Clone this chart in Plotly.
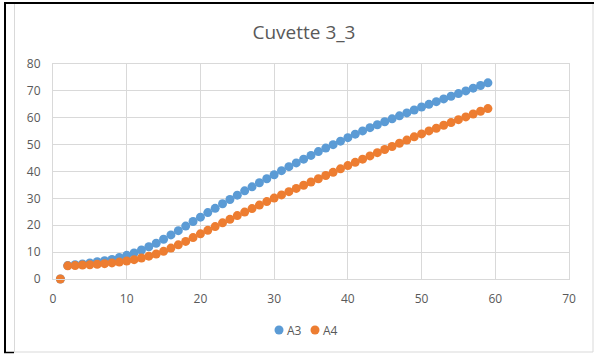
import plotly.graph_objects as go

# Measurement index (cycles 1..59)
cycles = list(range(1, 60))

a3 = [0.0, 5.0, 5.3, 5.6, 6.0, 6.4, 6.8, 7.3, 8.0, 8.8,
      9.7, 10.8, 12.0, 13.3, 14.8, 16.4, 18.0, 19.7, 21.4, 23.0,
      24.7, 26.3, 28.0, 29.6, 31.2, 32.8, 34.3, 35.8, 37.3, 38.8,
      40.3, 41.8, 43.2, 44.6, 46.0, 47.4, 48.7, 50.0, 51.3, 52.6,
      53.9, 55.1, 56.3, 57.4, 58.5, 59.6, 60.7, 61.8, 62.9, 64.0,
      65.0, 66.0, 67.0, 68.0, 69.0, 70.0, 71.0, 72.0, 73.0]

a4 = [0.0, 4.9, 5.0, 5.2, 5.3, 5.5, 5.7, 6.0, 6.3, 6.7,
      7.2, 7.8, 8.5, 9.3, 10.3, 11.5, 12.7, 14.0, 15.4, 16.8,
      18.1, 19.5, 20.9, 22.2, 23.6, 24.9, 26.2, 27.5, 28.8, 30.1,
      31.3, 32.5, 33.7, 34.9, 36.1, 37.3, 38.5, 39.7, 41.0, 42.2,
      43.4, 44.6, 45.8, 47.0, 48.2, 49.3, 50.5, 51.7, 52.9, 54.0,
      55.1, 56.1, 57.2, 58.2, 59.3, 60.3, 61.4, 62.4, 63.4]

series_names = ["A3", "A4"]
series_colors = ["#5B9BD5", "#ED7D31"]

W, H = 596, 354
L, R, T, B = 53, 27, 64, 75
PW, PH = W - L - R, H - T - B


def px_x(px):
    return (px - L) / PW


def px_y(py):
    return (H - B - py) / PH


FONT = "Open Sans, Noto Sans, sans-serif"
TEXT = "#595959"
grid = "#D9D9D9"

fig = go.Figure()
for name, vals, col in zip(series_names, [a3, a4], series_colors):
    fig.add_trace(go.Scatter(
        x=cycles, y=vals, name=name, mode="markers",
        marker=dict(color=col, size=9, line=dict(width=0)),
        cliponaxis=False, showlegend=False,
    ))

tickfont = dict(family=FONT, size=12, color=TEXT)

fig.update_xaxes(
    range=[0, 70], dtick=10, tick0=0,
    showgrid=True, gridcolor=grid, gridwidth=1,
    showline=True, linecolor=grid, mirror=True,
    zeroline=False, ticks="outside", ticklen=9, tickcolor="rgba(0,0,0,0)",
    tickfont=tickfont, fixedrange=True,
)
fig.update_yaxes(
    range=[0, 80], dtick=10, tick0=0,
    showgrid=True, gridcolor=grid, gridwidth=1,
    showline=True, linecolor=grid, mirror=True,
    zeroline=False, ticks="outside", ticklen=9, tickcolor="rgba(0,0,0,0)",
    tickfont=tickfont, fixedrange=True,
)

# Compact legend below the plot: a coloured dot swatch plus the series name
legend_dot_x = [279, 315]
legend_y = 330
dot_r = 4.5
annotations = []
shapes = []
for name, col, dx in zip(series_names, series_colors, legend_dot_x):
    shapes.append(dict(
        type="circle", xref="paper", yref="paper",
        x0=px_x(dx - dot_r), x1=px_x(dx + dot_r),
        y0=px_y(legend_y + dot_r), y1=px_y(legend_y - dot_r),
        fillcolor=col, line=dict(width=0),
    ))
    annotations.append(dict(
        xref="paper", yref="paper", x=px_x(dx + 6), y=px_y(legend_y),
        xanchor="left", yanchor="middle", showarrow=False,
        text=name, font=dict(family=FONT, size=12, color=TEXT),
    ))

# Outer frame: black on left/top, light grey chart border inside
shapes += [
    dict(type="line", xref="paper", yref="paper",
         x0=px_x(5), x1=px_x(5), y0=px_y(2), y1=px_y(353),
         line=dict(color="black", width=2)),
    dict(type="line", xref="paper", yref="paper",
         x0=px_x(4), x1=px_x(594), y0=px_y(3), y1=px_y(3),
         line=dict(color="black", width=2)),
    dict(type="line", xref="paper", yref="paper",
         x0=px_x(4), x1=px_x(14), y0=px_y(352.5), y1=px_y(352.5),
         line=dict(color="black", width=1.5)),
    dict(type="line", xref="paper", yref="paper",
         x0=px_x(14.5), x1=px_x(14.5), y0=px_y(4), y1=px_y(352),
         line=dict(color=grid, width=1)),
    dict(type="line", xref="paper", yref="paper",
         x0=px_x(593), x1=px_x(593), y0=px_y(4), y1=px_y(352),
         line=dict(color=grid, width=1)),
    dict(type="line", xref="paper", yref="paper",
         x0=px_x(14), x1=px_x(593), y0=px_y(352), y1=px_y(352),
         line=dict(color=grid, width=1)),
]

fig.update_layout(
    width=W, height=H,
    margin=dict(l=L, r=R, t=T, b=B),
    paper_bgcolor="white", plot_bgcolor="white",
    title=dict(text="Cuvette 3_3", x=px_x(304), xref="paper", xanchor="center",
               y=1 - 32 / H, yanchor="middle",
               font=dict(family=FONT, size=19, color=TEXT)),
    showlegend=False,
    annotations=annotations,
    shapes=shapes,
)

fig.write_html("out.html")
